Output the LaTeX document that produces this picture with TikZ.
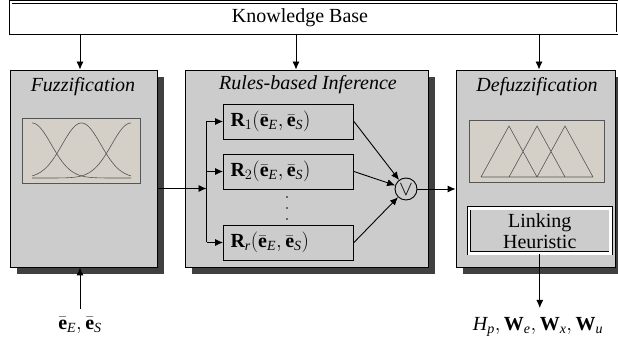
\documentclass[tikz,border=0pt]{standalone}
\usepackage{fontspec}
\setmainfont{Liberation Serif}
\usetikzlibrary{arrows.meta,shadows,calc}
\definecolor{boxgray}{RGB}{204,204,204}
\definecolor{plotfill}{RGB}{212,208,200}
\definecolor{shadowc}{RGB}{64,64,64}
\definecolor{curvec}{RGB}{85,85,85}
\newcommand{\ebar}{\bar{\mathbf{e}}}
\newcommand{\mi}[1]{\mathit{#1}}
\begin{document}
\begin{tikzpicture}[x=1pt,y=1pt,
  font=\fontsize{20}{23}\selectfont,
  stage/.style={draw=black, line width=0.9pt, fill=boxgray, rectangle,
    drop shadow={shadow xshift=7pt, shadow yshift=-7.5pt, fill=shadowc, opacity=1}},
  rulebox/.style={draw=black, line width=0.9pt, fill=boxgray, rectangle,
    minimum width=130pt, minimum height=35pt, text width=116pt, align=left, inner xsep=7pt},
  plotbox/.style={draw=curvec, line width=0.6pt, fill=plotfill, rectangle},
  curve/.style={draw=curvec, line width=0.6pt},
  dbl/.style={draw=black, double=white, line width=0.8pt, double distance=1.6pt},
  arr/.style={line width=0.9pt, -{Latex[length=8pt,width=7pt]}},
  ttl/.style={font=\fontsize{20}{23}\selectfont\itshape}
]
\useasboundingbox (0,0) rectangle (618,-344);

% Knowledge base
\node[dbl, rectangle, minimum width=607.25pt, minimum height=31.2pt, inner sep=0pt] (kb) at (314.4,-17.6) {};
\node (kbtext) at (300,-17.6) {Knowledge Base};

% Stages
\node[stage, minimum width=147pt, minimum height=197pt] (fuzz) at (83.5,-168.5) {};
\node[stage, minimum width=243pt, minimum height=197pt] (rules) at (306.5,-168.5) {};
\node[stage, minimum width=159pt, minimum height=197pt] (defuzz) at (535.5,-168.5) {};

\node[ttl] (fuzzttl) at (83,-86.5) {Fuzzification};
\node[ttl] (rulesttl) at (308,-84.5) {Rules-based Inference};
\node[ttl] (defuzzttl) at (537,-86.5) {Defuzzification};

% Fuzzification plot
\node[plotbox, minimum width=118pt, minimum height=65pt] (fplot) at (81,-150.5) {};
\draw[curve] plot[domain=32:131, samples=70, smooth] (\x, {-178+55*exp(-((\x-32)^2)/750)});
\draw[curve] plot[domain=32:131, samples=70, smooth] (\x, {-178+55*exp(-((\x-81.5)^2)/750)});
\draw[curve] plot[domain=32:131, samples=70, smooth] (\x, {-178+55*exp(-((\x-131)^2)/750)});

% Defuzzification plot
\node[plotbox, minimum width=135pt, minimum height=62pt] (dplot) at (536.5,-151) {};
\draw[curve] (481,-177) -- (509,-126) -- (537,-177)
             (509,-177) -- (537,-126) -- (565,-177)
             (537,-177) -- (565,-126) -- (593,-177)
             (481,-177) -- (593,-177);

% Linking heuristic
\node[dbl, fill=boxgray, rectangle, minimum width=141.5pt, minimum height=45pt, line width=0.9pt, double distance=2.2pt,
      align=center, inner sep=0pt, font=\fontsize{20}{21}\selectfont] (link) at (539.75,-231) {Linking\\Heuristic};

% Rules
\node[rulebox] (r1) at (288.5,-121.5) {$\mathbf{R}_{1}(\ebar_{\mi{E}},\ebar_{\mi{S}})$};
\node[rulebox] (r2) at (288.5,-171.5) {$\mathbf{R}_{2}(\ebar_{\mi{E}},\ebar_{\mi{S}})$};
\node[rulebox] (rr) at (288.5,-242.5) {$\mathbf{R}_{\mi{r}}(\ebar_{\mi{E}},\ebar_{\mi{S}})$};
\foreach \yy in {-197,-208,-219} \fill (287,\yy) circle (0.9pt);

% OR node
\node[circle, draw=black, line width=0.9pt, minimum size=22pt, inner sep=0pt] (or) at (406,-189) {};
\node[inner sep=0pt] (orsym) at (406,-189.5) {$\vee$};

% Connectors from KB
\draw[arr] ([xshift=-3.5pt]fuzz.north |- kb.south) -- ([xshift=-3.5pt]fuzz.north);
\draw[arr] ([xshift=-10.5pt]rules.north |- kb.south) -- ([xshift=-10.5pt]rules.north);
\draw[arr] ([xshift=3.5pt]defuzz.north |- kb.south) -- ([xshift=3.5pt]defuzz.north);

% Fuzz -> rules
\coordinate (junc) at (206.5,-188.5);
\draw[arr] (fuzz.east |- junc) -- (junc);
\draw[line width=0.9pt] (junc |- r1.west) -- (junc |- rr.west);
\draw[arr] (junc |- r1.west) -- (r1.west);
\draw[arr] (junc |- r2.west) -- (r2.west);
\draw[arr] (junc |- rr.west) -- (rr.west);

% Rules -> OR
\draw[arr] (r1.east) -- (or);
\draw[arr] (r2.east) -- (or);
\draw[arr] (rr.east) -- (or);

% OR -> defuzz
\draw[arr] (or.east) -- (or.east -| defuzz.west);

% Input
\coordinate (instart) at (80,-309);
\draw[arr] (instart) -- ([xshift=-3.5pt]fuzz.south);
\node (inlbl) at (80,-325) {$\ebar_{\mi{E}},\ebar_{\mi{S}}$};

% Output
\coordinate (outend) at (539.75,-308);
\draw[arr] (link.south) -- (outend);
\node (outlbl) at (538,-327) {$\mi{H}_{\mi{p}},\mathbf{W}_{\mi{e}},\mathbf{W}_{\mi{x}},\mathbf{W}_{\mi{u}}$};
\end{tikzpicture}
\end{document}
